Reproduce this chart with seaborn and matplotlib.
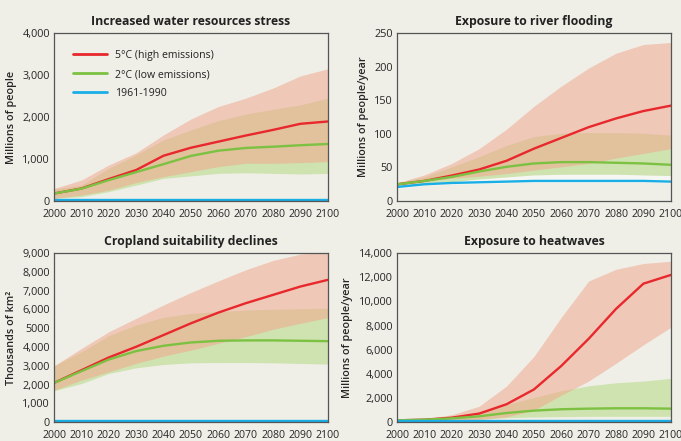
import numpy as np
import pandas as pd
import matplotlib.pyplot as plt
import seaborn as sns

# decades shown on every panel
years = [2000, 2010, 2020, 2030, 2040, 2050, 2060, 2070, 2080, 2090, 2100]

# --- Increased water resources stress (millions of people)
water_hi = [180, 300, 525, 740, 1080, 1270, 1415, 1560, 1695, 1840, 1895]
water_hi_up = [300, 500, 860, 1150, 1575, 1955, 2250, 2450, 2690, 2980, 3150]
water_hi_lo = [65, 140, 260, 440, 580, 700, 820, 900, 900, 915, 940]
water_lo = [180, 295, 500, 690, 880, 1075, 1200, 1265, 1295, 1330, 1360]
water_lo_up = [290, 380, 780, 1100, 1455, 1695, 1915, 2070, 2185, 2290, 2450]
water_lo_lo = [65, 105, 225, 380, 540, 600, 660, 675, 660, 645, 660]
water_base = [20, 20, 20, 20, 20, 20, 20, 20, 20, 20, 20]

# --- Exposure to river flooding (millions of people/year)
flood_hi = [25, 30, 38, 47, 60, 78, 94, 110, 123, 134, 142]
flood_hi_up = [27, 39, 56, 78, 107, 141, 171, 198, 220, 233, 236]
flood_hi_lo = [24, 29, 34, 37, 41, 46, 51, 56, 64, 71, 78]
flood_lo = [25, 30, 36, 44, 51, 56, 58, 58, 57, 56, 54]
flood_lo_up = [27, 36, 51, 66, 83, 96, 101, 102, 102, 101, 98]
flood_lo_lo = [23, 26, 29, 33, 36, 39, 40, 40, 40, 39, 38]
flood_base = [21, 25, 27, 28, 29, 30, 30, 30, 30, 30, 29]

# --- Cropland suitability declines (thousands of km2)
crop_hi = [2085, 2760, 3440, 4010, 4635, 5260, 5830, 6330, 6775, 7220, 7575]
crop_hi_up = [2995, 3920, 4810, 5525, 6240, 6900, 7520, 8110, 8610, 8950, 9050]
crop_hi_lo = [1695, 2230, 2675, 3120, 3510, 3830, 4190, 4545, 4940, 5260, 5560]
crop_lo = [2085, 2710, 3330, 3780, 4065, 4240, 4330, 4350, 4350, 4330, 4310]
crop_lo_up = [2995, 3740, 4600, 5170, 5580, 5790, 5880, 5970, 6010, 6040, 6060]
crop_lo_lo = [1660, 2050, 2585, 2890, 3065, 3155, 3170, 3170, 3155, 3120, 3085]
crop_base = [30, 30, 30, 30, 30, 30, 30, 30, 30, 30, 30]

# --- Exposure to heatwaves (millions of people/year)
heat_hi = [140, 195, 360, 700, 1475, 2700, 4650, 6900, 9380, 11470, 12190]
heat_hi_up = [195, 250, 610, 1310, 2980, 5430, 8680, 11690, 12660, 13140, 13330]
heat_hi_lo = [85, 110, 140, 220, 420, 975, 2225, 3395, 4870, 6400, 7850]
heat_lo = [140, 195, 305, 475, 750, 945, 1060, 1110, 1140, 1140, 1110]
heat_lo_up = [140, 195, 420, 835, 1445, 2030, 2590, 3005, 3255, 3395, 3620]
heat_lo_lo = [55, 85, 140, 220, 360, 420, 445, 475, 475, 475, 475]
heat_base = [50, 50, 50, 50, 50, 50, 50, 50, 50, 50, 50]

RED, GREEN, BLUE = '#e8282c', '#7cc142', '#1aaee6'
BG = '#efefe8'

sns.set_theme(style='white')
plt.rcParams['font.family'] = ['Open Sans', 'DejaVu Sans']
plt.rcParams['text.color'] = '#222222'

fig = plt.figure(figsize=(6.81, 4.41), dpi=100, facecolor=BG)

# panel definitions: title, ylabel, ylim, yticks, ytick labels, data, axes rect
panels = [
    ('Increased water resources stress', 'Millions of people', 4000,
     [0, 1000, 2000, 3000, 4000], ['0', '1,000', '2,000', '3,000', '4,000'],
     (water_hi, water_hi_lo, water_hi_up, water_lo, water_lo_lo, water_lo_up, water_base),
     [0.0793, 0.544, 0.402, 0.381]),
    ('Exposure to river flooding', 'Millions of people/year', 250,
     [0, 50, 100, 150, 200, 250], ['0', '50', '100', '150', '200', '250'],
     (flood_hi, flood_hi_lo, flood_hi_up, flood_lo, flood_lo_lo, flood_lo_up, flood_base),
     [0.583, 0.544, 0.402, 0.381]),
    ('Cropland suitability declines', 'Thousands of km²', 9000,
     list(range(0, 9001, 1000)),
     ['0', '1,000', '2,000', '3,000', '4,000', '5000', '6,000', '7,000', '8,000', '9,000'],
     (crop_hi, crop_hi_lo, crop_hi_up, crop_lo, crop_lo_lo, crop_lo_up, crop_base),
     [0.0793, 0.043, 0.402, 0.383]),
    ('Exposure to heatwaves', 'Millions of people/year', 14000,
     list(range(0, 14001, 2000)),
     ['0', '2,000', '4,000', '6,000', '8,000', '10,000', '12,000', '14,000'],
     (heat_hi, heat_hi_lo, heat_hi_up, heat_lo, heat_lo_lo, heat_lo_up, heat_base),
     [0.583, 0.043, 0.402, 0.383]),
]

for i, (title, ylabel, ymax, yt, ytl, data, rect) in enumerate(panels):
    hi, hi_lo, hi_up, lo, lo_lo, lo_up, base = data
    ax = fig.add_axes(rect, facecolor=BG)

    # a faint pale band sits under the flooding baseline
    if i == 1:
        ax.fill_between(years, np.array(base) - 2, np.array(lo_lo), color='#f6f7f3', lw=0)

    ax.fill_between(years, lo_lo, lo_up, color='#cfe3b0', lw=0)
    ax.fill_between(years, hi_lo, hi_up, color='#f0a88f', alpha=0.55, lw=0)

    df = pd.DataFrame({
        'year': years * 3,
        'value': hi + lo + base,
        'scenario': ['5°C (high emissions)'] * 11 + ['2°C (low emissions)'] * 11 + ['1961-1990'] * 11,
    })
    sns.lineplot(data=df, x='year', y='value', hue='scenario',
                 palette=[RED, GREEN, BLUE], linewidth=1.7, ax=ax, legend=(i == 0))

    ax.set_xlim(2000, 2100)
    ax.set_ylim(0, ymax)
    ax.set_xticks(years)
    ax.set_xticklabels([str(y) for y in years], fontsize=7.6)
    ax.set_yticks(yt)
    ax.set_yticklabels(ytl, fontsize=7.8)
    ax.tick_params(axis='x', length=0, pad=6)
    ax.tick_params(axis='y', length=0, pad=3)
    ax.set_xlabel('')
    ax.set_ylabel(ylabel, fontsize=7.8, fontweight='semibold')
    ax.set_title(title, fontsize=8.8, fontweight='bold', pad=6)
    for s in ax.spines.values():
        s.set_color('#555555')
        s.set_linewidth(0.9)

    if i == 0:
        leg = ax.legend(loc='upper left', frameon=False, fontsize=7.6,
                        handlelength=3.2, labelspacing=0.75, borderaxespad=0.9,
                        bbox_to_anchor=(0.02, 0.98))
        for h in leg.get_lines():
            h.set_linewidth(2)

fig.savefig('out.png', dpi=100, facecolor=BG)
